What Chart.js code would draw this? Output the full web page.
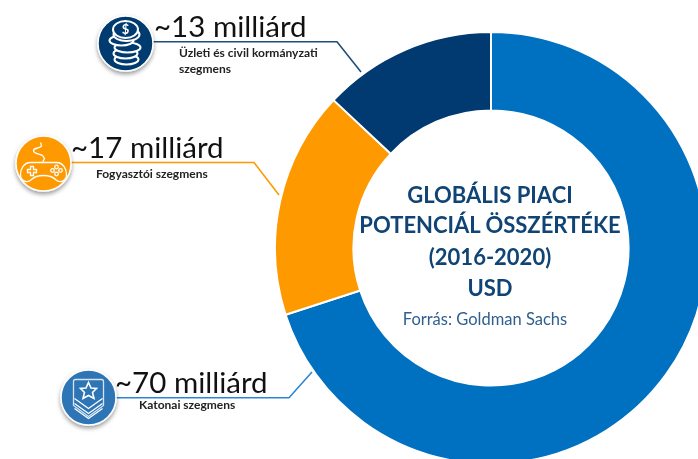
<!DOCTYPE html>
<html lang="hu">
<head>
<meta charset="utf-8">
<title>Globális piaci potenciál</title>
<script src="https://cdn.jsdelivr.net/npm/chart.js@4/dist/chart.umd.min.js"></script>
<style>
    html, body { margin: 0; padding: 0; background: #fff; }
    #page { position: relative; width: 698px; height: 459px; overflow: hidden; font-family: Lato, sans-serif; }
    #chartBox { position: absolute; left: 271px; top: 27.5px; width: 440px; height: 440px; }
    #overlay { position: absolute; left: 0; top: 0; }
</style>
</head>
<body>
<div id="page">
    <div id="chartBox"><canvas id="marketChart"></canvas></div>
    <svg id="overlay" width="698" height="459" xmlns="http://www.w3.org/2000/svg">
        <defs>
            <filter id="iconShadow" x="-30%" y="-30%" width="160%" height="170%">
                <feDropShadow dx="0" dy="2.5" stdDeviation="2" flood-color="#000" flood-opacity="0.4"/>
            </filter>
        </defs>
        <g id="callouts"></g>
        <g id="icons"></g>
        <g id="labels"></g>
    </svg>
</div>

<script>
// Segment data (billion USD)
const categories = ['Katonai szegmens', 'Fogyasztói szegmens', 'Üzleti és civil kormányzati szegmens'];
const values = [70, 17, 13];
const valueLabels = ['~70 milliárd', '~17 milliárd', '~13 milliárd'];
const colors = ['#0070C0', '#FF9900', '#003A70'];

const titleLines = ['GLOBÁLIS PIACI', 'POTENCIÁL ÖSSZÉRTÉKE', '(2016-2020)', 'USD'];
const sourceText = 'Forrás: Goldman Sachs';

new Chart(document.getElementById('marketChart'), {
    type: 'doughnut',
    data: {
        labels: categories,
        datasets: [{
            data: values,
            backgroundColor: colors,
            borderColor: '#fff',
            borderWidth: 2,
            radius: 216,
            cutout: 139.5
        }]
    },
    options: {
        responsive: true,
        maintainAspectRatio: false,
        animation: false,
        plugins: {
            legend: { display: false },
            tooltip: { enabled: false }
        }
    }
});

// Overlay layout, same order as categories
const NS = 'http://www.w3.org/2000/svg';
const layouts = [
    { cx: 88.5, cy: 397.5, fill: '#2E75B6', line: '#2E86D2', path: '115,397.7 289,397.7 312,372', valueX: 115, valueY: 393, sub: [[139, 409]], icon: drawChevrons },
    { cx: 43.5, cy: 163.5, fill: '#FF9900', line: '#FF9900', path: '71,162.5 254,162.5 279,195', valueX: 71, valueY: 158, sub: [[96, 178]], icon: drawGamepad },
    { cx: 125.5, cy: 43.5, fill: '#003A70', line: '#1F4E79', path: '153,41.7 337,41.7 361,72', valueX: 154, valueY: 37, sub: [[179, 57], [179, 73]], subLines: ['Üzleti és civil kormányzati', 'szegmens'], icon: drawCoins }
];

function el(parent, name, attrs, text) {
    const node = document.createElementNS(NS, name);
    Object.keys(attrs).forEach(k => node.setAttribute(k, attrs[k]));
    if (text) node.textContent = text;
    parent.appendChild(node);
    return node;
}

function drawCoins(g) {
    const st = { fill: '#003A70', stroke: '#fff', 'stroke-width': 2 };
    el(g, 'ellipse', { cx: 1, cy: 16, rx: 12, ry: 5, ...st });
    el(g, 'ellipse', { cx: 0, cy: 10, rx: 12, ry: 5, ...st });
    el(g, 'ellipse', { cx: 2, cy: 4, rx: 13, ry: 5, ...st });
    el(g, 'ellipse', { cx: -4, cy: -3, rx: 12, ry: 5, ...st });
    el(g, 'ellipse', { cx: 1, cy: -9, rx: 13, ry: 6.5, ...st });
    el(g, 'ellipse', { cx: 0, cy: -14, rx: 12.5, ry: 8.5, ...st });
    el(g, 'text', { x: 0, y: -9.5, 'text-anchor': 'middle', fill: '#fff', 'font-size': 13, 'font-weight': 700, 'font-family': 'Lato' }, '$');
}

function drawGamepad(g) {
    const st = { fill: 'none', stroke: '#fff', 'stroke-width': 1.3 };
    el(g, 'path', { d: 'M-13,-1 H13 C20,-1 23,6 23,11 C23,18 16,20 12,16 C9,13 6,12 0,12 C-6,12 -9,13 -12,16 C-16,20 -23,18 -23,11 C-23,6 -20,-1 -13,-1 Z', ...st });
    el(g, 'path', { d: 'M-1,-1 L1,-5 L-1,-8 C-3,-10 -10,-9 -10,-13 C-10,-16 -2,-15 -2,-18 L-3,-21', ...st });
    el(g, 'path', { d: 'M-13,3 H-10 V6 H-7 V9 H-10 V12 H-13 V9 H-16 V6 H-13 Z', ...st });
    [[9, 7], [13, 3.5], [17, 7], [13, 10.5]].forEach(p => el(g, 'circle', { cx: p[0], cy: p[1], r: 1.8, ...st }));
}

function drawChevrons(g) {
    const st = { fill: 'none', stroke: '#fff', 'stroke-width': 1.3 };
    el(g, 'path', { d: 'M-15,-16 Q-15,-18 -13,-18 H13 Q15,-18 15,-16 V8 L0,19 L-15,8 Z', ...st, opacity: 0.8 });
    el(g, 'path', { d: 'M0,-15 L2.5,-9.5 L8,-9 L4,-5 L5.5,1 L0,-2 L-5.5,1 L-4,-5 L-8,-9 L-2.5,-9.5 Z', ...st, 'stroke-width': 1.6 });
    [2, 7, 12].forEach(d => el(g, 'path', { d: `M-14,${d - 1} L0,${d + 9} L14,${d - 1}`, ...st }));
}

const callouts = document.getElementById('callouts');
const icons = document.getElementById('icons');
const labels = document.getElementById('labels');

layouts.forEach((l, i) => {
    el(callouts, 'polyline', { points: l.path, fill: 'none', stroke: l.line, 'stroke-width': 1.6 });

    el(icons, 'circle', { cx: l.cx, cy: l.cy, r: 27.5, fill: l.fill, stroke: '#fff', 'stroke-width': 1.5, filter: 'url(#iconShadow)' });
    l.icon(el(icons, 'g', { transform: `translate(${l.cx},${l.cy})` }));

    el(labels, 'text', { x: l.valueX, y: l.valueY, fill: '#111', 'font-size': 29.5 }, valueLabels[i]);
    const subLines = l.subLines || [categories[i]];
    subLines.forEach((t, j) => {
        el(labels, 'text', { x: l.sub[j][0], y: l.sub[j][1], fill: '#222', 'font-size': 12, 'font-weight': 700 }, t);
    });
});

// Centre text
const titleY = [203, 233, 265, 296];
titleLines.forEach((t, i) => {
    el(labels, 'text', { x: 490, y: titleY[i], 'text-anchor': 'middle', fill: '#0F4475', 'font-size': 22, 'font-weight': 700 }, t);
});
el(labels, 'text', { x: 485, y: 325, 'text-anchor': 'middle', fill: '#2F5F8F', 'font-size': 16.5 }, sourceText);
</script>
</body>
</html>
